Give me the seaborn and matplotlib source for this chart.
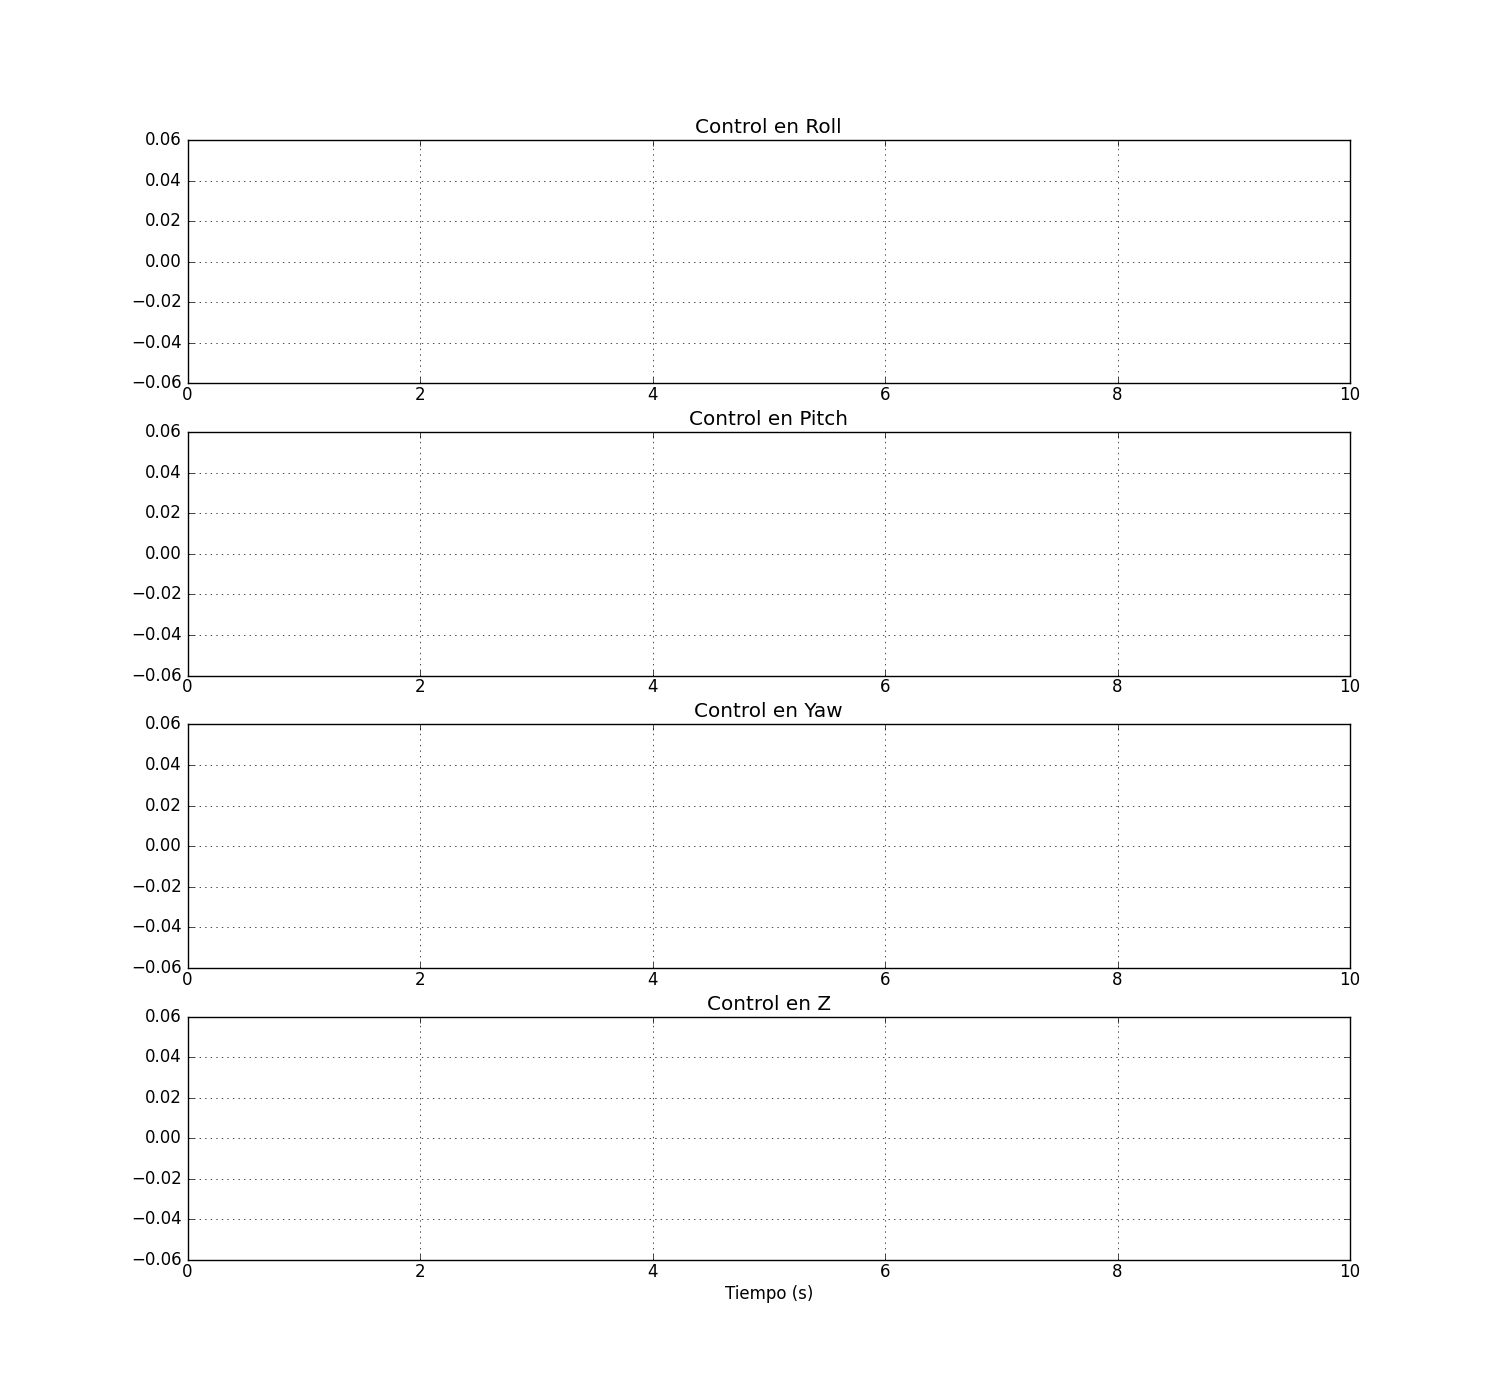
#!/usr/bin/env python3

import matplotlib

matplotlib.use("Agg")
import matplotlib.pyplot as plt
import pandas
import seaborn as sns

plt.style.use("classic")
plt.rcParams["font.family"] = ["DejaVu Sans"]
plt.rcParams["xtick.major.pad"] = 2
plt.rcParams["axes.labelpad"] = 3

# The controller log is empty: the four channels carry no samples
tiempo = []
roll = []
pitch = []
yaw = []
z = []

titles = ["Control en Roll", "Control en Pitch", "Control en Yaw", "Control en Z"]
x_limits = [0, 10]
y_limits = [-0.06, 0.06]
x_ticks = [0, 2, 4, 6, 8, 10]
y_ticks = [-0.06, -0.04, -0.02, 0.00, 0.02, 0.04, 0.06]


def main():
    fig, axes = plt.subplots(4, 1, figsize=(15, 14), dpi=100)
    fig.patch.set_facecolor("white")

    for ax, title, values in zip(axes, titles, [roll, pitch, yaw, z]):
        df = pandas.DataFrame({"t": pandas.Series(tiempo, dtype=float),
                               "u": pandas.Series(values, dtype=float)})
        sns.lineplot(x="t", y="u", data=df, ax=ax)
        ax.set_title(title)
        ax.set_xlim(x_limits)
        ax.set_ylim(y_limits)
        ax.set_xticks(x_ticks)
        ax.set_yticks(y_ticks)
        ax.set_yticklabels(["{:.2f}".format(v).replace("-", "\u2212") for v in y_ticks])
        ax.set_xlabel("")
        ax.set_ylabel("")
        ax.grid(True)

    axes[-1].set_xlabel("Tiempo (s)")
    fig.savefig("out.png", facecolor="white")


if __name__ == "__main__":
    main()
